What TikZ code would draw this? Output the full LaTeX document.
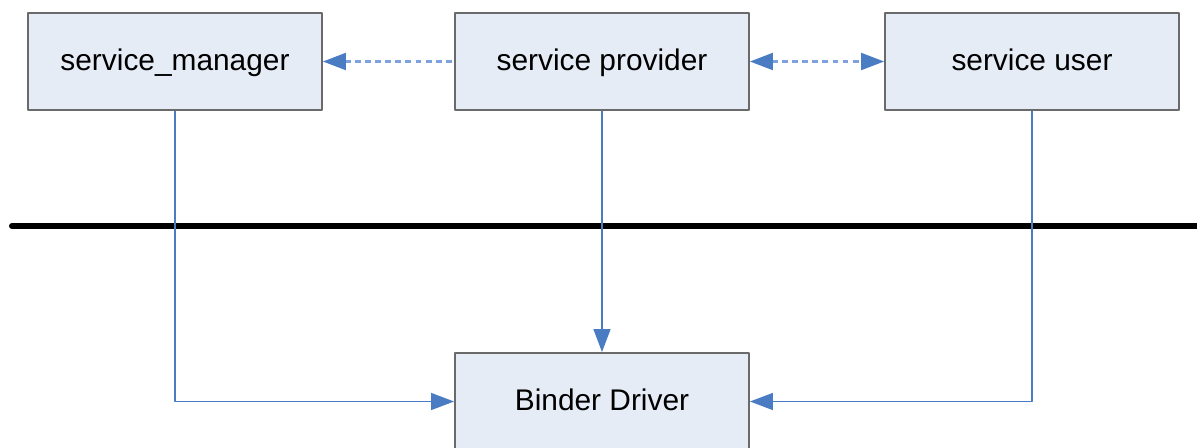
\documentclass[tikz,border=0pt]{standalone}
\usepackage{fontspec}
\setmainfont{Liberation Sans}
\usetikzlibrary{arrows.meta}
\definecolor{boxfill}{HTML}{E6ECF6}
\definecolor{boxline}{HTML}{6A6A6A}
\definecolor{linkblue}{HTML}{4A7CC4}
\definecolor{dashblue}{HTML}{7EA2DE}
\tikzset{tip/.tip={Triangle[length=0.46cm,width=0.34cm,color=linkblue,fill=linkblue]}}
\begin{document}
\begin{tikzpicture}[x=0.02cm,y=-0.02cm,line join=bevel]
  \tikzstyle{block}=[rectangle,draw=boxline,line width=1.1pt,fill=boxfill,minimum width=5.88cm,minimum height=1.94cm,inner sep=0pt,text height=13.5pt,text depth=3.5pt,font=\fontsize{17}{20}\selectfont]
  \tikzstyle{link}=[draw=linkblue,line width=0.8pt,-tip]
  \tikzstyle{call}=[draw=dashblue,line width=1.2pt,dash pattern=on 3.4pt off 2.3pt]
  \useasboundingbox (0,0) rectangle (1197,447);
  \clip (0,0) rectangle (1197,447);
  \node[block] (S_M) at (175,61.5)  {service\_manager};
  \node[block] (S_P) at (602,61.5)  {service provider};
  \node[block] (S_U) at (1032,61.5) {service user};
  \node[block] (B_D) at (602,401.5) {Binder Driver};
  % kernel boundary
  \draw [line width=3.4pt,line cap=round] (12,226) -- (1210,226);
  \draw [link] (S_M.south) |- (B_D.west);
  \draw [link] (S_P.south) -- (B_D.north);
  \draw [link] (S_U.south) |- (B_D.east);
  \draw [call,tip-] (S_M.east) -- (S_P.west);
  \draw [call,tip-tip] (S_P.east) -- (S_U.west);
\end{tikzpicture}
\end{document}
